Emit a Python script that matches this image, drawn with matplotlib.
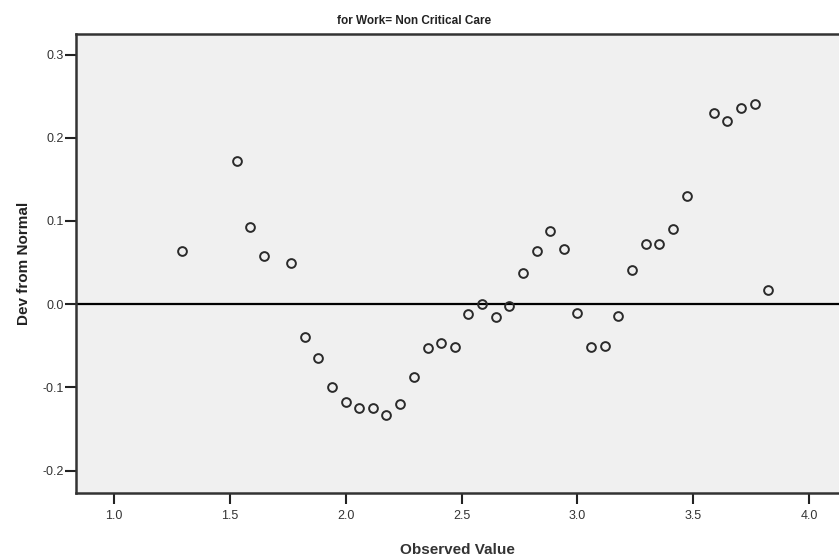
import matplotlib
matplotlib.use('Agg')
import matplotlib.pyplot as plt

plt.rcParams['font.family'] = ['Liberation Sans', 'DejaVu Sans']

# Detrended normal Q-Q: observed value vs deviation from normal
observed = [1.294, 1.529, 1.588, 1.647, 1.765, 1.824, 1.882, 1.941, 2.000,
            2.059, 2.118, 2.176, 2.235, 2.294, 2.353, 2.412, 2.471, 2.529,
            2.588, 2.647, 2.706, 2.765, 2.824, 2.882, 2.941, 3.000, 3.059,
            3.118, 3.176, 3.235, 3.294, 3.353, 3.412, 3.471, 3.588, 3.647,
            3.706, 3.765, 3.824]
dev_normal = [0.064, 0.172, 0.093, 0.058, 0.050, -0.040, -0.065, -0.100, -0.118,
              -0.125, -0.125, -0.133, -0.120, -0.088, -0.053, -0.047, -0.052, -0.012,
              0.000, -0.015, -0.002, 0.038, 0.064, 0.088, 0.066, -0.011, -0.052,
              -0.050, -0.014, 0.041, 0.072, 0.072, 0.090, 0.130, 0.230, 0.220,
              0.236, 0.240, 0.017]

x_ticks = [1.0, 1.5, 2.0, 2.5, 3.0, 3.5, 4.0]
y_ticks = [-0.2, -0.1, 0.0, 0.1, 0.2, 0.3]

fig = plt.figure(figsize=(8.39, 5.60), dpi=100)
ax = fig.add_axes([0.0906, 0.1196, 0.9094, 0.8194])
ax.set_facecolor('#f0f0f0')

ax.axhline(0, color='black', lw=1.6, zorder=1)
ax.plot(observed, dev_normal, ls='none', marker='o', ms=6.3, mfc='none',
        mec='#2a2a2a', mew=1.4, zorder=2)

ax.set_xlim(0.836, 4.129)
ax.set_ylim(-0.227, 0.3245)
ax.set_xticks(x_ticks)
ax.set_xticklabels([f'{v:.1f}' for v in x_ticks])
ax.set_yticks(y_ticks)
ax.set_yticklabels([f'{v:.1f}' for v in y_ticks])

for side in ['left', 'bottom', 'top']:
    ax.spines[side].set_linewidth(1.8)
    ax.spines[side].set_color('#333333')
ax.spines['right'].set_visible(False)

ax.tick_params(axis='both', direction='out', length=8, width=1.5,
               color='#222222', labelsize=9, labelcolor='#333333')
ax.tick_params(axis='x', pad=4)
ax.tick_params(axis='y', pad=1)

ax.set_xlabel('Observed Value', fontsize=11, fontweight='bold',
              color='#333333', labelpad=15)
ax.set_ylabel('Dev from Normal', fontsize=11, fontweight='bold',
              color='#222222', labelpad=8)
fig.text(0.493, 0.962, 'for Work= Non Critical Care', ha='center', va='center',
         fontsize=8.5, fontweight='bold', color='#222222')

fig.savefig('out.png', dpi=100)
